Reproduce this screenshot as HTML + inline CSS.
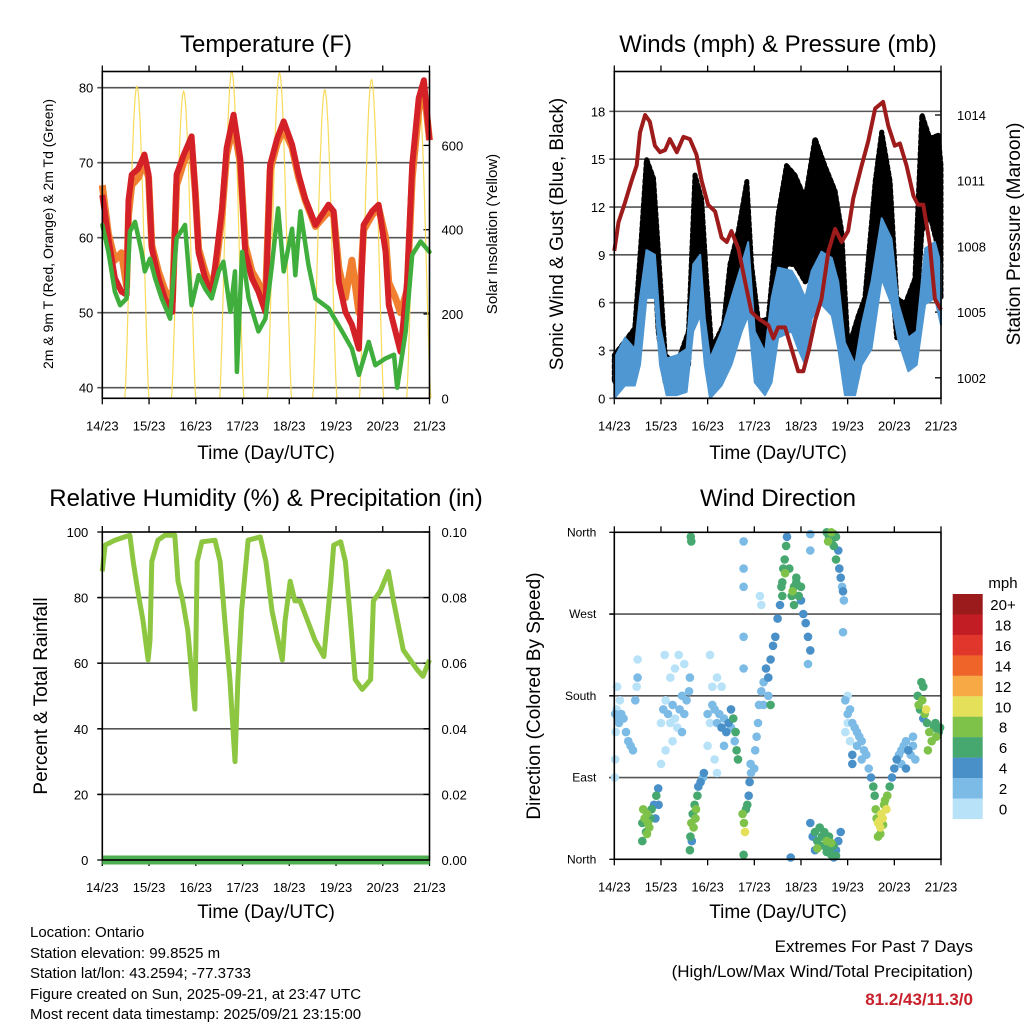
<!DOCTYPE html>
<html><head><meta charset="utf-8">
<style>
html,body{margin:0;padding:0;background:#fff;}
svg{display:block;font-family:"Liberation Sans",Arial,sans-serif;}
</style></head>
<body>
<svg id="chart" width="1024" height="1024" viewBox="0 0 1024 1024" xmlns="http://www.w3.org/2000/svg">
<rect width="1024" height="1024" fill="#fff"/>
<g id="marks"></g>
<text x="266" y="52" font-size="24" text-anchor="middle">Temperature (F)</text>
<text x="778" y="52" font-size="24" text-anchor="middle">Winds (mph) &amp; Pressure (mb)</text>
<text x="266" y="506" font-size="24" text-anchor="middle">Relative Humidity (%) &amp; Precipitation (in)</text>
<text x="778" y="506" font-size="24" text-anchor="middle">Wind Direction</text>
<text x="266" y="459" font-size="19" text-anchor="middle">Time (Day/UTC)</text>
<text x="778" y="459" font-size="19" text-anchor="middle">Time (Day/UTC)</text>
<text x="266" y="918" font-size="19" text-anchor="middle">Time (Day/UTC)</text>
<text x="778" y="918" font-size="19" text-anchor="middle">Time (Day/UTC)</text>
<text transform="translate(53,234) rotate(-90)" font-size="14" text-anchor="middle">2m &amp; 9m T (Red, Orange) &amp; 2m Td (Green)</text>
<text transform="translate(497,234) rotate(-90)" font-size="15" text-anchor="middle">Solar Insolation (Yellow)</text>
<text transform="translate(563,234) rotate(-90)" font-size="19" text-anchor="middle">Sonic Wind &amp; Gust (Blue, Black)</text>
<text transform="translate(1020,234) rotate(-90)" font-size="19" text-anchor="middle">Station Pressure (Maroon)</text>
<text transform="translate(47,696) rotate(-90)" font-size="19" text-anchor="middle">Percent &amp; Total Rainfall</text>
<text transform="translate(540,696) rotate(-90)" font-size="19" text-anchor="middle">Direction (Colored By Speed)</text>
<g font-size="15">
<text x="30" y="937">Location: Ontario</text>
<text x="30" y="958">Station elevation: 99.8525 m</text>
<text x="30" y="978">Station lat/lon: 43.2594; -77.3733</text>
<text x="30" y="999">Figure created on Sun, 2025-09-21, at 23:47 UTC</text>
<text x="30" y="1019">Most recent data timestamp: 2025/09/21 23:15:00</text>
</g>
<text x="973" y="952" font-size="17" text-anchor="end">Extremes For Past 7 Days</text>
<text x="973" y="977" font-size="17" text-anchor="end">(High/Low/Max Wind/Total Precipitation)</text>
<text x="973" y="1005" font-size="17" font-weight="bold" fill="#c8202a" text-anchor="end">81.2/43/11.3/0</text>
<text x="1003" y="588" font-size="15" text-anchor="middle">mph</text>
</svg>
<script>
const dayLabels = ["14/23","15/23","16/23","17/23","18/23","19/23","20/23","21/23"];
const redDays = [0,0.13,0.27,0.41,0.52,0.56,0.63,0.77,0.9,0.99,1.06,1.2,1.34,1.5,1.59,1.74,1.91,1.99,2.06,2.2,2.34,2.45,2.56,2.66,2.81,2.95,3.06,3.2,3.34,3.49,3.59,3.74,3.88,4.06,4.2,4.34,4.56,4.84,4.95,5.06,5.2,5.34,5.49,5.59,5.77,5.91,6.06,6.13,6.27,6.38,6.52,6.63,6.77,6.88,7.0];
const redTemp = [65.7,59.9,54.6,52.8,52.4,65,68.4,69.2,71.1,68.4,58.6,54.6,51.9,50.1,68.4,71,73.5,66,58,54.6,52.4,58,63.9,71.9,76.4,70.6,58,54.6,52.8,50.1,69.7,73.2,75.5,72.4,68.4,65.2,61.7,64.4,63.5,54.1,50.1,48.4,45.2,61.7,63.5,64.4,58.1,51,47.5,44.8,54.1,69.7,78.6,81,73];
const orangeTemp = [67,60.5,57,58,53.5,63,67,68,70,68,59,55.5,53,51.5,67,70,72.5,66,58.5,55.5,53,57,63,71,75,70,59,55.5,54,51.5,69,72.5,74.5,72,68,65,61.5,63.5,63,56,52,57,50,61,63,64,60,54,52,50,53,68,77,80,73];
const greenDays = [0,0.13,0.27,0.38,0.52,0.59,0.7,0.84,0.91,1.02,1.13,1.27,1.45,1.59,1.77,1.91,2.06,2.2,2.34,2.49,2.59,2.74,2.84,2.88,2.99,3.13,3.34,3.49,3.63,3.76,3.88,4.06,4.13,4.24,4.41,4.56,4.84,5.13,5.34,5.49,5.7,5.84,6.06,6.24,6.31,6.49,6.63,6.81,7.0];
const greenDew = [61.7,58.1,52.8,51,51.9,60.8,62.1,58.1,55.5,57.2,54.6,51.9,49.2,59.9,61.7,51,55,53.2,51.9,55.5,56.8,50.1,55.5,42.1,58.1,51.9,47.5,49.2,56.4,63.9,55.5,61.2,55,63.5,56.4,51.9,50.6,47.5,45.2,41.7,46.1,43,43.9,44.4,40,47.5,57.7,59.5,58.1];
const solarNoon = [0.74,1.74,2.77,3.79,4.76,5.76,6.77];
const solarPeak = [740,728,776,772,732,756,720];
const tempTicks = [40,50,60,70,80];
const solarTicks = [0,200,400,600];
const presDays = [0,.09,.23,.37,.48,.55,.66,.76,.87,.98,1.09,1.19,1.34,1.48,1.62,1.76,1.87,2.01,2.16,2.3,2.41,2.51,2.66,2.8,2.94,3.09,3.3,3.41,3.51,3.66,3.8,3.94,4.05,4.16,4.3,4.44,4.59,4.73,4.87,5.01,5.12,5.3,5.44,5.59,5.76,5.87,6.01,6.12,6.26,6.41,6.51,6.62,6.76,6.87,7.0];
const presVals = [1007.8,1009.1,1010,1011,1011.7,1013.2,1014,1013.7,1012.6,1012.3,1012.4,1012.9,1012.3,1013,1012.9,1012.2,1011,1009.9,1009.6,1008.4,1008.2,1008.7,1007.9,1006.4,1005,1004.7,1004.4,1003.8,1004.3,1004.3,1003.3,1002.3,1002.3,1003.2,1004.6,1005.6,1007.8,1008.8,1008.2,1008.7,1010.2,1011.7,1012.8,1014.3,1014.6,1013.5,1012.6,1012.7,1011.7,1010.3,1009.9,1009.9,1008.1,1005.6,1005.1];
const windDays = [0,.23,.44,.55,.69,.87,.98,1.12,1.34,1.55,1.69,1.84,1.94,2.05,2.3,2.51,2.73,2.87,3.01,3.23,3.37,3.51,3.8,3.94,4.09,4.23,4.44,4.66,4.8,4.94,5.16,5.3,5.51,5.73,5.94,6.09,6.3,6.48,6.66,6.87,7.0];
const windHigh = [2.5,3.8,3.1,6.3,9.3,9.0,4.6,2.5,2.7,3.1,8.4,9.0,5.0,2.5,4.2,6.3,8.4,9.8,4.2,2.9,6.3,8.2,8.0,7.3,6.3,8.0,9.2,8.8,7.3,3.5,2.1,4.6,7.3,11.3,10.0,5.9,3.8,4.2,9.4,9.8,8.4];
const windLow = [0,0.8,0.8,2.1,6.3,6.3,2.1,0.2,0.2,0.4,4.2,5.2,2.1,0,0.8,2.1,4.2,5.2,1.0,0.2,1.0,3.8,4.2,3.1,2.1,5.0,5.9,5.2,3.1,0.2,0.2,2.1,3.1,7.5,5.9,3.6,1.7,2.1,5.9,6.3,4.6];
const gustDays = [0,.44,.59,.69,.84,.94,1.09,1.34,1.59,1.73,1.87,1.98,2.09,2.34,2.48,2.66,2.84,2.94,3.09,3.3,3.51,3.69,3.87,4.09,4.3,4.51,4.73,4.87,5.01,5.23,5.37,5.59,5.73,5.91,6.05,6.23,6.44,6.59,6.76,6.94,7.0];
const gustHigh = [2.7,4.4,10.5,15.0,13.8,9.4,2.7,2.1,4.2,14.0,12.5,7.3,3.1,4.6,8.4,10.5,13.6,8.4,4.8,5.0,11.5,14.6,14.0,12.5,16.3,14.6,13.0,10.5,3.1,5.2,6.3,13.6,16.7,13.6,6.3,5.9,7.5,17.8,16.3,16.5,14.6];
const gustLow = [1.0,2.1,6.3,8.4,9.4,4.2,1.0,1.0,2.1,8.4,8.4,4.2,1.0,2.1,4.2,5.2,8.4,4.2,2.1,2.5,6.3,8.4,8.4,7.3,8.0,8.4,8.4,6.3,1.0,2.1,4.2,7.3,10.5,8.4,3.8,3.8,3.8,10.5,11.5,9.4,6.3];
const windTicks = [0,3,6,9,12,15,18];
const presTicks = [1002,1005,1008,1011,1014];
const rhDays = [0,0.06,0.27,0.48,0.59,0.66,0.76,0.87,0.98,1.02,1.06,1.19,1.34,1.55,1.62,1.72,1.83,1.94,1.98,2.03,2.13,2.41,2.52,2.62,2.73,2.84,2.9,2.98,3.12,3.38,3.5,3.63,3.76,3.85,3.91,4.02,4.12,4.23,4.55,4.74,4.89,4.95,5.1,5.2,5.31,5.41,5.56,5.74,5.8,5.95,6.12,6.23,6.44,6.74,6.86,7.0];
const rhVals = [88,96,97.5,98.5,99,91,82,73,61,67,91,97.5,99,99,85,79,70,52,46,91,97,97.5,91,73,55,30,55,76,97.5,98.5,91,76,67,61,73,85,79,79,67,62,85,96,97,91,73,55,52,55,79,82,88,79,64,58,56,61];
const rainVals = [0,0,0,0,0,0,0,0];
const rhTicks = [0,20,40,60,80,100];
const rainTicks = ["0.00","0.02","0.04","0.06","0.08","0.10"];
const dirDays = [0.02,0.05,0.08,0.1,0.15,0.2,0.25,0.3,0.35,0.4,0.03,0.12,0.06,0.45,0.5,0.5,0.48,0.02,0.01,
0.6,0.62,0.65,0.68,0.7,0.72,0.75,0.78,0.8,0.85,0.9,0.95,0.6,0.7,0.88,0.94,
1.0,1.05,1.1,1.15,1.2,1.25,1.3,1.35,1.4,1.45,1.5,1.55,1.6,1.62,1.2,1.3,1.1,1.25,1.45,1.5,1.08,1.38,1.0,
1.62,1.63,1.65,1.68,1.7,1.72,1.75,1.78,1.8,1.85,1.9,1.92,1.66,1.74,1.64,1.65,
2.0,2.05,2.1,2.15,2.2,2.25,2.3,2.35,2.4,2.45,2.5,2.55,2.6,2.62,2.65,2.1,2.2,2.05,2.3,2.15,2.0,2.2,2.35,2.5,2.58,
2.75,2.78,2.8,2.82,2.85,2.88,2.9,2.93,2.77,2.92,2.77,2.77,2.77,2.77,2.77,
3.0,3.02,3.05,3.08,3.1,3.15,3.2,3.25,3.3,3.35,3.4,3.45,3.5,3.55,3.58,3.62,3.65,3.68,3.7,3.2,3.3,3.12,3.15,3.35,3.6,3.6,3.66,
3.8,3.85,3.9,3.95,4.0,4.05,4.1,4.15,4.2,3.75,3.85,4.0,4.15,4.2,4.2,3.82,3.9,
4.2,4.25,4.3,4.35,4.4,4.45,4.5,4.55,4.6,4.65,4.7,4.75,4.8,4.85,4.3,4.4,4.5,4.6,4.7,3.78,4.35,4.55,4.65,4.75,
4.55,4.6,4.65,4.7,4.75,4.8,4.82,4.85,4.88,4.9,4.92,4.75,4.65,4.9,5.0,4.58,4.7,
4.95,5.0,5.05,5.1,5.15,5.2,5.25,5.3,5.35,5.4,5.45,5.5,5.55,5.58,4.95,5.05,5.1,5.1,5.0,5.2,5.3,
5.6,5.62,5.65,5.7,5.72,5.75,5.78,5.8,5.83,5.85,5.9,5.95,5.65,5.7,5.68,5.76,
6.0,6.05,6.1,6.15,6.2,6.25,6.3,6.35,6.4,6.45,6.4,6.15,6.25,
6.5,6.52,6.55,6.6,6.62,6.65,6.7,6.75,6.8,6.85,6.9,6.95,6.98,6.58,6.72,6.62,6.68,6.88];
const dirDeg = [160,165,155,150,160,155,140,130,125,120,140,175,190,175,200,220,190,110,90,
40,55,45,30,50,40,35,45,55,60,70,60,20,28,45,78,
150,165,175,160,150,170,155,145,165,180,160,175,185,200,200,210,120,130,140,215,225,225,105,
10,25,40,50,35,60,55,70,80,85,90,95,20,45,355,350,
160,150,170,165,150,160,145,155,140,150,165,155,140,120,110,190,200,225,190,110,125,95,125,145,130,
50,40,30,55,60,70,85,95,5,105,350,320,300,245,210,
100,120,135,150,170,185,195,210,200,220,235,245,265,280,300,320,330,345,355,170,180,290,280,170,290,305,315,
290,300,305,290,285,270,260,245,230,320,280,300,215,358,340,295,310,
40,25,30,20,35,25,15,20,10,5,15,10,20,30,10,15,30,25,2,2,12,8,18,4,
360,355,350,345,355,340,320,310,300,295,285,330,360,250,180,350,358,
175,160,165,150,145,140,135,130,120,115,100,90,80,70,140,130,115,105,150,125,110,
55,45,40,35,50,45,60,65,55,70,80,90,25,28,42,38,
100,110,115,120,125,130,120,115,125,110,135,105,100,
180,170,165,175,190,160,150,140,130,145,135,140,145,195,120,155,165,150];
const dirSpeed = [2,1,3,2,3,3,2,2,3,2,1,1,0,2,2,1,1,0,1,
7,8,8,7,8,9,8,7,6,5,6,4,6,8,4,4,
1,2,1,2,0,2,1,1,2,2,2,3,3,2,0,0,0,1,2,1,0,0,0,
6,7,8,7,8,7,8,6,5,4,3,4,4,8,6,6,
2,1,2,2,2,3,4,3,4,4,5,6,6,6,7,1,1,0,1,1,0,0,2,3,3,
8,8,10,7,6,5,4,3,7,3,3,3,2,3,2,
2,2,2,2,2,2,3,4,4,4,4,4,4,5,6,7,6,6,5,2,3,1,1,6,6,7,8,
6,7,6,6,5,4,5,4,4,6,6,6,3,2,2,8,6,
4,5,6,6,6,7,7,8,7,6,7,5,5,5,5,7,6,7,5,4,8,7,8,6,
7,7,6,7,6,5,4,4,3,4,2,6,8,2,1,8,6,
2,2,2,2,2,3,3,2,2,3,3,5,6,6,1,1,4,4,1,2,3,
8,9,10,10,10,10,9,8,10,8,6,4,8,9,10,9,
4,4,3,3,3,2,4,2,2,2,2,2,4,
6,8,7,9,7,8,6,9,8,7,8,6,6,6,8,5,10,7];
const dirLabels = ["North","East","South","West","North"];
const dirTickDeg = [0,90,180,270,360];
const legendLabels = ["20+","18","16","14","12","10","8","6","4","2","0"];
const legendColors = ["#9b1a1c","#c21d25","#e0362b","#ef6429","#f6a945","#e5e05a","#7fc24a","#47a86f","#4a90c8","#7bbbe6","#b8e2f8"];

const NS = "http://www.w3.org/2000/svg";
const root = document.getElementById("marks");
function el(tag, attrs, parent){
  const e = document.createElementNS(NS, tag);
  for (const k in attrs) e.setAttribute(k, attrs[k]);
  (parent||root).appendChild(e);
  return e;
}
function txt(x,y,s,size,anchor,parent){
  const t = el("text",{x:x,y:y,"font-size":size,"text-anchor":anchor},parent);
  t.textContent = s;
  return t;
}
function polyPts(xs, ys, fx, fy){
  return xs.map((d,i)=>fx(d).toFixed(1)+","+fy(ys[i]).toFixed(1)).join(" ");
}
function frame(px0,px1,py0,py1,name){
  const g = el("g",{});
  
  
  const xd = d => px0 + d*(px1-px0)/7;
  for (let i=0;i<dayLabels.length;i++){
    const x = xd(i);
    el("line",{x1:x,x2:x,y1:py1,y2:py1+6,stroke:"#000","stroke-width":1.3},g);
    el("line",{x1:x,x2:x,y1:py0,y2:py0-6,stroke:"#000","stroke-width":1.3},g);
    const t = txt(x,py1+32,dayLabels[i],13,"middle",g);
    
    
  }
  return g;
}
function box(px0,px1,py0,py1,name){
  const r = el("rect",{x:px0,y:py0,width:px1-px0,height:py1-py0,fill:"none",stroke:"#000","stroke-width":1.6});
  
  
}
function gridY(px0,px1,y,g){
  el("line",{x1:px0-5,x2:px1,y1:y,y2:y,stroke:"#555","stroke-width":1.6},g);
}

(function(){
  const px0=102.3, px1=429.5, py0=71.5, py1=398.3;
  const fx = d => px0 + d*(px1-px0)/7;
  const fy = t => 387.7 - (t-40)*7.5;
  const fs = s => 398.3 - s*84.3/200;
  const g = frame(px0,px1,py0,py1,"temperature");
  tempTicks.forEach(t=>{ gridY(px0,px1,fy(t),g); const l=txt(px0-9,fy(t)+5,String(t),13,"end",g);   });
  solarTicks.forEach(s=>{ el("line",{x1:px1,x2:px1-6,y1:fs(s),y2:fs(s),stroke:"#000","stroke-width":1.3},g); const l=txt(px1+12,fs(s)+5,String(s),13,"start",g);   });
  const sg = el("g",{});
  
  
  solarNoon.forEach((n,i)=>{
    const pts=[];
    for(let k=-26;k<=26;k++){
      const d = n + k*0.01;
      const v = solarPeak[i]*Math.pow(Math.cos(k/26*Math.PI/2),1.4);
      pts.push(fx(d).toFixed(1)+","+fs(v).toFixed(1));
    }
    const p = el("polyline",{points:pts.join(" "),fill:"none",stroke:"#f7d748","stroke-width":1.2,"stroke-opacity":0.9},sg);
    
    
  });
  const o = el("polyline",{points:polyPts(redDays,orangeTemp,fx,fy),fill:"none",stroke:"#f08030","stroke-width":7,"stroke-linejoin":"round"});
  
  
  const r = el("polyline",{points:polyPts(redDays,redTemp,fx,fy),fill:"none",stroke:"#d42127","stroke-width":6,"stroke-linejoin":"round"});
  
  
  const gr = el("polyline",{points:polyPts(greenDays,greenDew,fx,fy),fill:"none",stroke:"#3fae3c","stroke-width":4.5,"stroke-linejoin":"round","stroke-linecap":"round"});
  
  
  box(px0,px1,py0,py1,"temperature");
})();

(function(){
  const px0=614.3, px1=941, py0=71.5, py1=398.3;
  const fx = d => px0 + d*(px1-px0)/7;
  const fy = w => 398.3 - w*15.94;
  const fp = p => 115 + (1014-p)*21.9;
  const g = frame(px0,px1,py0,py1,"winds");
  windTicks.forEach(w=>{ gridY(px0,px1,fy(w),g); const l=txt(px0-9,fy(w)+5,String(w),13,"end",g);   });
  presTicks.forEach(p=>{ el("line",{x1:px1,x2:px1-6,y1:fp(p),y2:fp(p),stroke:"#000","stroke-width":1.3},g); const l=txt(px1+16,fp(p)+5,String(p),13,"start",g);   });
  const gpts = polyPts(gustDays,gustHigh,fx,fy)+" "+polyPts(gustDays.slice().reverse(),gustLow.slice().reverse(),fx,fy);
  const gb = el("polygon",{points:gpts,fill:"#000",stroke:"#000","stroke-width":5,"stroke-linejoin":"round","stroke-dasharray":"3 3","stroke-linecap":"round"});
  
  
  const wpts = polyPts(windDays,windHigh,fx,fy)+" "+polyPts(windDays.slice().reverse(),windLow.slice().reverse(),fx,fy);
  const wb = el("polygon",{points:wpts,fill:"#4f97d2",stroke:"#4f97d2","stroke-width":2,"stroke-linejoin":"round"});
  
  
  const pl = el("polyline",{points:polyPts(presDays,presVals,fx,fp),fill:"none",stroke:"#9e1b1b","stroke-width":4,"stroke-linejoin":"round"});
  
  
  box(px0,px1,py0,py1,"winds");
})();

(function(){
  const px0=102.3, px1=429.5, py0=532, py1=860;
  const fx = d => px0 + d*(px1-px0)/7;
  const fy = v => 860 - v*3.28;
  const fr = v => 860 - v*3280;
  const g = frame(px0,px1,py0,py1,"humidity");
  rhTicks.forEach((v,i)=>{
    if (v>0 && v<100) gridY(px0,px1,fy(v),g);
    el("line",{x1:px0,x2:px0-5,y1:fy(v),y2:fy(v),stroke:"#000","stroke-width":1.3},g);
    const l=txt(px0-14,fy(v)+5,String(v),13,"end",g);  
    el("line",{x1:px1,x2:px1-6,y1:fy(v),y2:fy(v),stroke:"#000","stroke-width":1.3},g);
    const r=txt(px1+12,fy(v)+5,rainTicks[i],13,"start",g);  
  });
  const rain = el("polyline",{points:polyPts([0,1,2,3,4,5,6,7],rainVals,fx,fr),fill:"none",stroke:"#4caf50","stroke-width":9});
  
  
  const rh = el("polyline",{points:polyPts(rhDays,rhVals,fx,fy),fill:"none",stroke:"#8dc641","stroke-width":5,"stroke-linejoin":"round"});
  
  
  box(px0,px1,py0,py1,"humidity");
})();

(function(){
  const px0=614.3, px1=941, py0=532.3, py1=859.3;
  const fx = d => px0 + d*(px1-px0)/7;
  const fy = a => 859.3 - a*327/360;
  const g = frame(px0,px1,py0,py1,"wind-direction");
  dirTickDeg.forEach((a,i)=>{
    if (a>0 && a<360) gridY(px0,px1,fy(a),g);
    el("line",{x1:px0,x2:px0-5,y1:fy(a),y2:fy(a),stroke:"#000","stroke-width":1.3},g);
    const l=txt(px0-18,fy(a)+4,dirLabels[i],12,"end",g);  
  });
  const sg = el("g",{});
  
  
  const order = dirDays.map((d,i)=>i).sort((a,b)=>dirSpeed[a]-dirSpeed[b]);
  order.forEach(i=>{
    const bin = Math.min(10, Math.floor(dirSpeed[i]/2));
    const c = el("circle",{cx:fx(dirDays[i]).toFixed(1),cy:fy(dirDeg[i]).toFixed(1),r:4.3,fill:legendColors[10-bin]},sg);
    
    
  });
  box(px0,px1,py0,py1,"wind-direction");
  const lg = el("g",{});
  
  
  legendLabels.forEach((s,i)=>{
    const y = 594 + i*20.45;
    const r = el("rect",{x:952.7,y:y,width:30,height:20.6,fill:legendColors[i]},lg);
    
    
    const t = txt(1003,y+16,s,15,"middle",lg);
    
    
  });
})();
</script>
</body></html>
